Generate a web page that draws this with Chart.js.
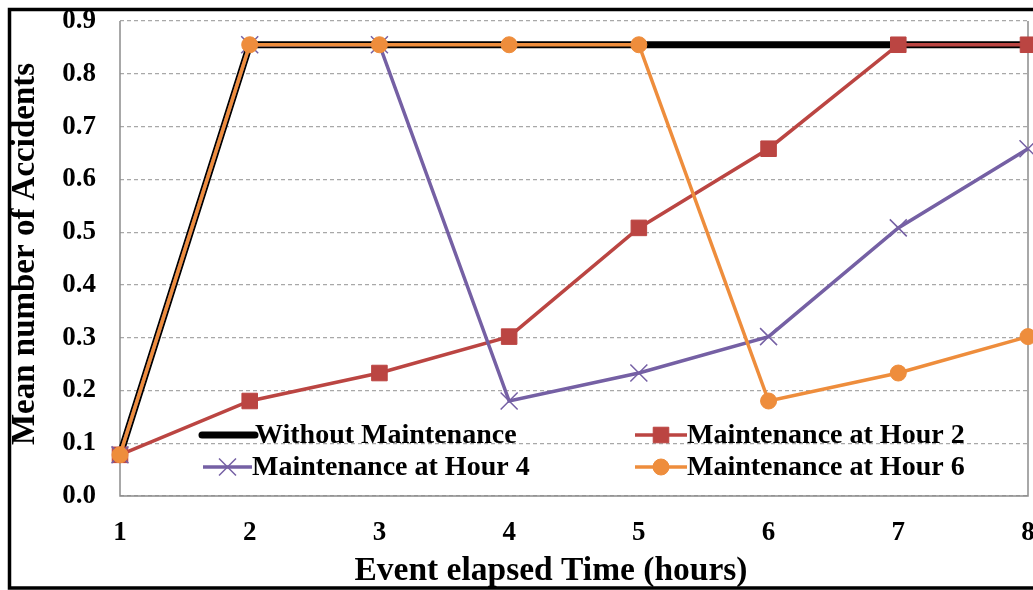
<!DOCTYPE html>
<html>
<head>
<meta charset="utf-8">
<script src="https://cdn.jsdelivr.net/npm/chart.js@4/dist/chart.umd.min.js"></script>
<style>
  html, body { margin: 0; padding: 0; background: #fff; }
  #canvas { display: block; }
</style>
</head>
<body>
<canvas id="canvas" width="1033" height="590"></canvas>
<script>
// values
const hours = ['1', '2', '3', '4', '5', '6', '7', '8'];
const withoutMaint = [0.078, 0.855, 0.855, 0.855, 0.855, 0.855, 0.855, 0.855];
const maintHour2 = [0.078, 0.18, 0.233, 0.302, 0.508, 0.658, 0.855, 0.855];
const maintHour4 = [0.078, 0.855, 0.855, 0.18, 0.233, 0.302, 0.508, 0.658];
const maintHour6 = [0.078, 0.855, 0.855, 0.855, 0.855, 0.18, 0.233, 0.302];
const yTicks = [0, 0.1, 0.2, 0.3, 0.4, 0.5, 0.6, 0.7, 0.8, 0.9];
const xTitle = 'Event elapsed Time (hours)';
const yTitle = 'Mean number of Accidents';

const serif = "'Liberation Serif', 'Times New Roman', serif";

// plot box runs right up to the edge, the "8" gets clipped like in the figure
const plotRight = 1028;

const stretchPlot = {
  id: 'stretchPlot',
  afterLayout: (chart) => {
    const a = chart.chartArea;
    a.right = plotRight;
    a.width = a.right - a.left;
    const x = chart.scales.x;
    x.left = a.left;
    x.right = a.right;
    x.width = a.width;
    x.configure();
  }
};

// axis titles sit a bit off-centre in the figure, so place them by hand
const axisTitles = {
  id: 'axisTitles',
  afterDraw: (chart) => {
    const ctx = chart.ctx;
    ctx.save();
    ctx.fillStyle = '#000';
    ctx.textAlign = 'center';
    ctx.textBaseline = 'alphabetic';
    ctx.font = 'bold 33.5px ' + serif;
    ctx.fillText(xTitle, 551, 580);
    ctx.translate(34, 254);
    ctx.rotate(-Math.PI / 2);
    ctx.font = 'bold 33px ' + serif;
    ctx.fillText(yTitle, 0, 0);
    ctx.restore();
  }
};

// white page, black frame, grey box round the plot
const frame = {
  id: 'frame',
  beforeDraw: (chart) => {
    const {ctx, width, height} = chart;
    ctx.save();
    ctx.fillStyle = '#fff';
    ctx.fillRect(0, 0, width, height);
    ctx.restore();
  },
  beforeDatasetsDraw: (chart) => {
    const {ctx, chartArea: a} = chart;
    ctx.save();
    ctx.strokeStyle = '#8c8c8c';
    ctx.lineWidth = 1.5;
    ctx.beginPath();
    ctx.moveTo(a.left, a.top);
    ctx.lineTo(a.left, a.bottom);
    ctx.lineTo(a.right, a.bottom);
    ctx.lineTo(a.right, a.top);
    ctx.stroke();
    ctx.restore();
  },
  afterDraw: (chart) => {
    const {ctx, width} = chart;
    ctx.save();
    ctx.strokeStyle = '#000';
    ctx.lineWidth = 3.5;
    ctx.beginPath();
    ctx.moveTo(width, 9.5);
    ctx.lineTo(9.5, 9.5);
    ctx.lineTo(9.5, 588);
    ctx.lineTo(width, 588);
    ctx.stroke();
    ctx.restore();
  }
};

// legend sits inside the plot in two columns
const legendSpots = [
  {x1: 202, x2: 255, y: 435},
  {x1: 635, x2: 687, y: 435},
  {x1: 203, x2: 252, y: 467},
  {x1: 635, x2: 687, y: 467}
];

function drawMarker(ctx, ds, x, y) {
  const r = ds.pointRadius;
  if (!r) return;
  ctx.fillStyle = ds.pointBackgroundColor;
  ctx.strokeStyle = ds.pointBorderColor;
  ctx.lineWidth = ds.pointBorderWidth;
  ctx.beginPath();
  if (ds.pointStyle === 'rect') {
    const s = r * Math.SQRT1_2;
    ctx.rect(x - s, y - s, 2 * s, 2 * s);
    ctx.fill();
    ctx.stroke();
  } else if (ds.pointStyle === 'crossRot') {
    const s = r * Math.SQRT1_2;
    ctx.moveTo(x - s, y - s); ctx.lineTo(x + s, y + s);
    ctx.moveTo(x - s, y + s); ctx.lineTo(x + s, y - s);
    ctx.stroke();
  } else {
    ctx.arc(x, y, r, 0, Math.PI * 2);
    ctx.fill();
    ctx.stroke();
  }
}

const insideLegend = {
  id: 'insideLegend',
  afterDraw: (chart) => {
    const ctx = chart.ctx;
    ctx.save();
    ctx.font = 'bold 28px ' + serif;
    ctx.textBaseline = 'middle';
    ctx.textAlign = 'left';
    chart.data.datasets.forEach((ds, i) => {
      const p = legendSpots[i];
      ctx.strokeStyle = ds.borderColor;
      ctx.lineWidth = ds.borderWidth;
      ctx.lineCap = i === 0 ? 'round' : 'butt';
      ctx.beginPath();
      ctx.moveTo(p.x1, p.y);
      ctx.lineTo(p.x2, p.y);
      ctx.stroke();
      ctx.lineCap = 'butt';
      drawMarker(ctx, ds, (p.x1 + p.x2) / 2, p.y);
      ctx.fillStyle = '#000';
      ctx.fillText(ds.label, p.x2, p.y + 1);
    });
    ctx.restore();
  }
};

chart = new Chart(document.getElementById('canvas').getContext('2d'), {
  type: 'line',
  data: {
    labels: hours,
    datasets: [{
      label: 'Without Maintenance',
      data: withoutMaint,
      borderColor: '#000000',
      backgroundColor: '#000000',
      borderWidth: 7,
      pointRadius: 0,
      order: 4
    }, {
      label: 'Maintenance at Hour 2',
      data: maintHour2,
      borderColor: '#BB4542',
      backgroundColor: '#BB4542',
      borderWidth: 3.5,
      pointStyle: 'rect',
      pointRadius: 11,
      pointBackgroundColor: '#BB4542',
      pointBorderColor: '#BB4542',
      pointBorderWidth: 1,
      order: 3
    }, {
      label: 'Maintenance at Hour 4',
      data: maintHour4,
      borderColor: '#7560A4',
      backgroundColor: '#7560A4',
      borderWidth: 3.5,
      pointStyle: 'crossRot',
      pointRadius: 12,
      pointBackgroundColor: '#7560A4',
      pointBorderColor: '#7560A4',
      pointBorderWidth: 1.5,
      order: 2
    }, {
      label: 'Maintenance at Hour 6',
      data: maintHour6,
      borderColor: '#EE8D3C',
      backgroundColor: '#EE8D3C',
      borderWidth: 3.5,
      pointStyle: 'circle',
      pointRadius: 8,
      pointBackgroundColor: '#EE8D3C',
      pointBorderColor: '#EE8D3C',
      pointBorderWidth: 1,
      order: 1
    }]
  },
  options: {
    responsive: false,
    animation: false,
    events: [],
    layout: {
      padding: {left: 0, top: 21, right: 5, bottom: 0}
    },
    plugins: {
      legend: {display: false},
      tooltip: {enabled: false}
    },
    elements: {
      line: {tension: 0}
    },
    scales: {
      x: {
        offset: false,
        grid: {display: false, drawTicks: false},
        border: {display: false},
        ticks: {
          color: '#000',
          padding: 21,
          maxRotation: 0,
          font: {family: serif, weight: 'bold', size: 27}
        },
        title: {display: false},
        afterFit: (scale) => {
          scale.height = 94;
          scale.paddingLeft = 0;
          scale.paddingRight = 0;
        }
      },
      y: {
        min: 0,
        max: 0.9,
        afterBuildTicks: (scale) => {
          scale.ticks = yTicks.map((v) => ({value: v}));
        },
        grid: {color: '#a8a8a8', lineWidth: 1.2, drawTicks: false},
        border: {display: false, dash: [4, 3]},
        ticks: {
          color: '#000',
          padding: 24,
          font: {family: serif, weight: 'bold', size: 27},
          callback: (v) => Number(v).toFixed(1)
        },
        title: {display: false},
        afterFit: (scale) => {
          scale.width = 120;
          scale.paddingTop = 0;
          scale.paddingBottom = 0;
        }
      }
    }
  },
  plugins: [stretchPlot, frame, axisTitles, insideLegend]
});
</script>
</body>
</html>
